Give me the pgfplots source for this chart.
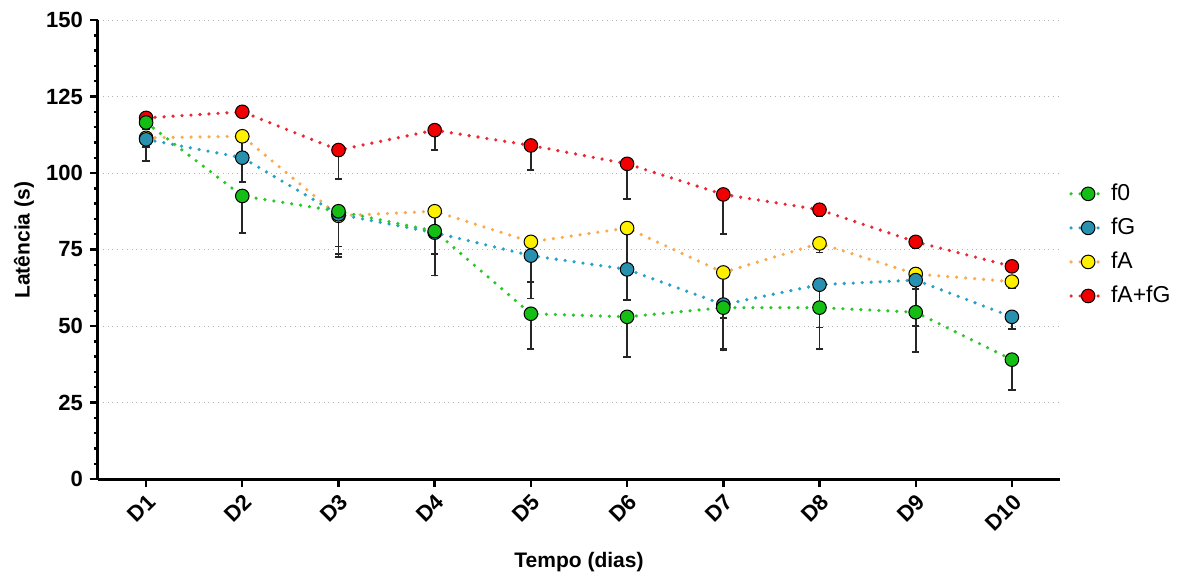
\documentclass[border=0pt]{standalone}
\usepackage{fontspec}
\setmainfont{Liberation Sans}
\usepackage{pgfplots}
\pgfplotsset{compat=1.18}
\usepackage{pgfplotstable}

\definecolor{gfill}{RGB}{20,190,20}
\definecolor{gline}{RGB}{40,200,40}
\definecolor{bfill}{RGB}{40,145,175}
\definecolor{bline}{RGB}{40,160,200}
\definecolor{yfill}{RGB}{255,240,0}
\definecolor{yline}{RGB}{250,170,80}
\definecolor{rfill}{RGB}{240,0,0}
\definecolor{rline}{RGB}{235,40,50}

% x y ey (ey = lower error)
\pgfplotstableread{
x y ey
1 116.5 2
2 92.5 12
3 87.5 14
4 81 14.5
5 54 11.5
6 53 13
7 56 13.5
8 56 13.5
9 54.5 13
10 39 10
}\fzero
\pgfplotstableread{
x y ey
1 111 7
2 105 8
3 86.5 14
4 80.5 14
5 73 14
6 68.5 10
7 57 15
8 63.5 14
9 65 15
10 53 4
}\fG
\pgfplotstableread{
x y ey
1 111.5 3
2 112 6
3 86 10
4 87.5 14
5 77.5 13
6 82 15
7 67.5 15
8 77 3
9 67 5
10 64.5 2
}\fA
\pgfplotstableread{
x y ey
1 118 2
2 120 1
3 107.5 9.5
4 114 6.5
5 109 8
6 103 11.5
7 93 13
8 88 2
9 77.5 2
10 69.5 1
}\fAG

\begin{document}
\begin{tikzpicture}
\path[use as bounding box] (-49pt,-50.5pt) rectangle (546.5pt,239.5pt);
\begin{axis}[
  at={(0,0)}, anchor=south west,
  scale only axis,
  width=481pt, height=229.5pt,
  xmin=0.5, xmax=10.5,
  ymin=0, ymax=150,
  axis x line*=bottom, axis y line*=left,
  axis line style={line width=1.5pt, black},
  xtick={1,...,10},
  xticklabels={D1,D2,D3,D4,D5,D6,D7,D8,D9,D10},
  ytick={0,25,...,150},
  minor y tick num=4,
  tick style={black, line width=1.2pt},
  major tick length=4pt,
  minor tick length=2.2pt,
  tick align=outside,
  ymajorgrids,
  grid style={gray!60, dotted, line width=0.5pt},
  /pgf/number format/assume math mode=true,
  yticklabel style={font=\fontsize{11}{12}\selectfont\bfseries},
  xticklabel style={font=\fontsize{11}{12}\selectfont\bfseries, rotate=45, anchor=north east, inner sep=2pt},
  xlabel={Tempo (dias)},
  ylabel={Latência (s)},
  label style={font=\fontsize{10.5}{12}\selectfont\bfseries},
  ylabel style={at={(axis description cs:-0.077,0.52)}, anchor=center},
  xlabel style={at={(axis description cs:0.5,-0.181)}, anchor=center},
  every axis plot/.append style={line width=1.8pt, dash pattern=on 0pt off 4.5pt, line cap=round},
  error bars/error bar style={solid, line width=0.9pt, black!85},
  error bars/error mark options={solid, line width=0.9pt, black!85, mark size=1.8pt, rotate=90},
  legend style={draw=none, fill=none, at={(1.003,0.51)}, anchor=west,
    font=\fontsize{11.5}{13}\selectfont, row sep=3.2pt},
  legend cell align=left,
  reverse legend,
]
\addplot[color=rline, mark=*, mark size=3.4pt, mark options={solid, fill=rfill, draw=black, line width=0.5pt},
  error bars/.cd, y dir=minus, y explicit] table[x=x, y=y, y error=ey]{\fAG};
\addlegendentry{fA+fG}
\addplot[color=yline, mark=*, mark size=3.4pt, mark options={solid, fill=yfill, draw=black, line width=0.5pt},
  error bars/.cd, y dir=minus, y explicit] table[x=x, y=y, y error=ey]{\fA};
\addlegendentry{fA}
\addplot[color=bline, mark=*, mark size=3.4pt, mark options={solid, fill=bfill, draw=black, line width=0.5pt},
  error bars/.cd, y dir=minus, y explicit] table[x=x, y=y, y error=ey]{\fG};
\addlegendentry{fG}
\addplot[color=gline, mark=*, mark size=3.4pt, mark options={solid, fill=gfill, draw=black, line width=0.5pt},
  error bars/.cd, y dir=minus, y explicit] table[x=x, y=y, y error=ey]{\fzero};
\addlegendentry{f0}
\end{axis}
\end{tikzpicture}
\end{document}
